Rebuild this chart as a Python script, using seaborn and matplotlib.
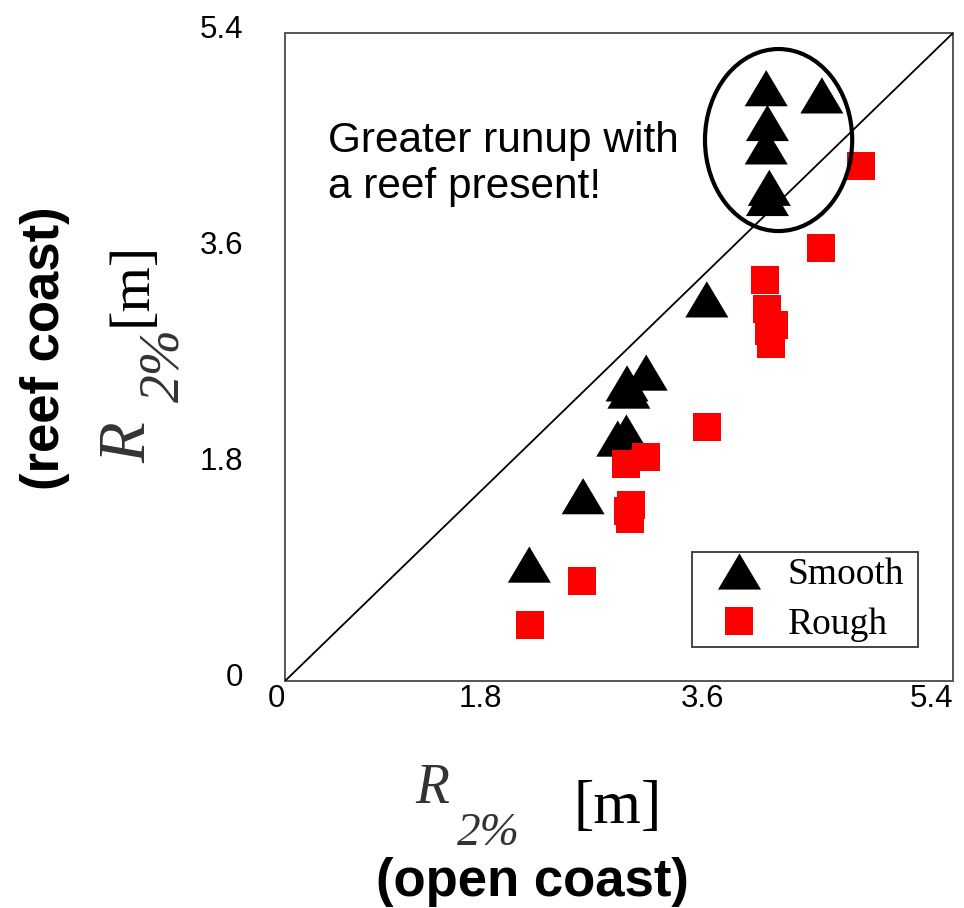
import numpy as np
import pandas as pd
import seaborn as sns
import matplotlib.pyplot as plt
from matplotlib.patches import Ellipse
from matplotlib.lines import Line2D
from matplotlib.transforms import ScaledTranslation

# -----------------------------
# Data
# -----------------------------
# Smooth coast: R2% open coast vs R2% reef coast [m]
smooth_open = [3.89, 4.34, 3.90, 3.89, 3.915, 3.90, 3.41, 2.92, 2.765, 2.78, 2.76, 2.69, 2.41, 1.975]
smooth_reef = [4.94, 4.88, 4.65, 4.455, 4.11, 4.025, 3.18, 2.57, 2.48, 2.42, 2.07, 2.02, 1.54, 0.97]

# Rough coast
rough_open = [4.66, 4.33, 3.88, 3.90, 3.95, 3.91, 3.93, 3.41, 2.92, 2.76, 2.80, 2.77, 2.79, 2.40, 1.98]
rough_reef = [4.29, 3.61, 3.34, 3.10, 2.97, 2.92, 2.81, 2.12, 1.87, 1.81, 1.47, 1.42, 1.35, 0.835, 0.47]

tick_vals = [0, 1.8, 3.6, 5.4]
tick_labels = ['0', '1.8', '3.6', '5.4']

df = pd.DataFrame({
    'OPEN': smooth_open + rough_open,
    'REEF': smooth_reef + rough_reef,
    'SURFACE': ['Smooth'] * len(smooth_open) + ['Rough'] * len(rough_open),
})

# -----------------------------
# Style
# -----------------------------
sns.set_theme(style='white')
plt.rcParams['font.family'] = ['Liberation Sans', 'DejaVu Sans']
plt.rcParams['text.color'] = 'black'

# wide, flat triangle like the original MATLAB marker
tri = [(-1, -0.84), (1, -0.84), (0, 0.84), (-1, -0.84)]
tri_size = 31.0   # points
sq_size = 20.2    # points

fig = plt.figure(figsize=(9.64, 9.08), dpi=100)
ax = fig.add_axes([285 / 964, 227 / 908, 668 / 964, 648 / 908])

sns.scatterplot(
    data=df, x='OPEN', y='REEF',
    hue='SURFACE', style='SURFACE', size='SURFACE',
    palette={'Smooth': 'black', 'Rough': 'red'},
    markers={'Smooth': tri, 'Rough': 's'},
    sizes={'Smooth': tri_size ** 2, 'Rough': sq_size ** 2},
    linewidth=0, legend=False, ax=ax, zorder=3,
)

# 1:1 line
ax.axline((0, 0), slope=1, color='black', lw=1.3, zorder=4)

ax.set_xlim(tick_vals[0], tick_vals[-1])
ax.set_ylim(tick_vals[0], tick_vals[-1])
ax.set_xticks(tick_vals, tick_labels, fontsize=22.5)
ax.set_yticks(tick_vals, tick_labels, fontsize=22.5)
ax.set_xlabel('')
ax.set_ylabel('')

for side in ['left', 'bottom', 'right', 'top']:
    ax.spines[side].set_color('#555555')
    ax.spines[side].set_linewidth(1.4)
ax.tick_params(axis='both', direction='in', length=5, width=1.2, color='#555555', labelcolor='black')
ax.tick_params(axis='x', pad=2)
ax.tick_params(axis='y', pad=30)
for lab in ax.get_xticklabels():
    lab.set_horizontalalignment('right')
for lab in ax.get_xticklabels()[1:3]:
    lab.set_transform(lab.get_transform() + ScaledTranslation(-6 / 100, 0, fig.dpi_scale_trans))
for lab in ax.get_yticklabels():
    lab.set_transform(lab.get_transform() + ScaledTranslation(0, 7 / 100, fig.dpi_scale_trans))

# circle around the reef points
ax.add_patch(Ellipse((3.99, 4.508), 1.19, 1.517, fill=False, ec='black', lw=3, zorder=5))
ax.text(0.064, 0.864, 'Greater runup with\na reef present!', transform=ax.transAxes,
        fontsize=30.5, ha='left', va='top', color='black', linespacing=1.2)

# legend
handles = [
    Line2D([], [], ls='none', marker=tri, color='black', markersize=tri_size, markeredgewidth=0),
    Line2D([], [], ls='none', marker='s', color='red', markersize=sq_size, markeredgewidth=0),
]
leg = ax.legend(handles, ['Smooth', 'Rough'], loc='upper left',
                bbox_to_anchor=((692 - 285) / 668, (681 - 552) / 648, (918 - 692) / 668, 0.0),
                mode='expand', borderaxespad=0, borderpad=0.15, handlelength=2.2,
                handletextpad=0.2, labelspacing=0.4, fancybox=False, framealpha=1,
                prop={'family': 'Liberation Serif', 'size': 27})
leg.get_frame().set_edgecolor('#444444')
leg.get_frame().set_linewidth(1.4)
for t in leg.get_texts():
    t.set_color('black')

# axis labels: R_2% [m]
serif = 'Liberation Serif'
lab_kw = dict(ha='left', va='baseline', rotation_mode='anchor')
fig.text(415 / 964, 1 - 803 / 908, 'R', family=serif, style='italic', fontsize=40, color='#333333', **lab_kw)
fig.text(457 / 964, 1 - 845 / 908, '2%', family=serif, style='italic', fontsize=34, color='#333333', **lab_kw)
fig.text(573 / 964, 1 - 823 / 908, '[m]', family=serif, fontsize=44, color='black', **lab_kw)
fig.text(532 / 964, 1 - 882 / 908, '(open coast)', fontsize=38, fontweight='bold', ha='center', va='center')

fig.text(145 / 964, 1 - 463 / 908, 'R', family=serif, style='italic', fontsize=48, color='#333333',
         rotation=90, **lab_kw)
fig.text(178 / 964, 1 - 402 / 908, '2%', family=serif, style='italic', fontsize=40, color='#333333',
         rotation=90, **lab_kw)
fig.text(146 / 964, 1 - 326 / 908, '[m]', family=serif, fontsize=42, color='black',
         rotation=90, **lab_kw)
fig.text(45 / 964, 1 - 348 / 908, '(reef coast)', fontsize=38, fontweight='bold',
         rotation=90, ha='center', va='center')

plt.savefig('out.png', dpi=100)
